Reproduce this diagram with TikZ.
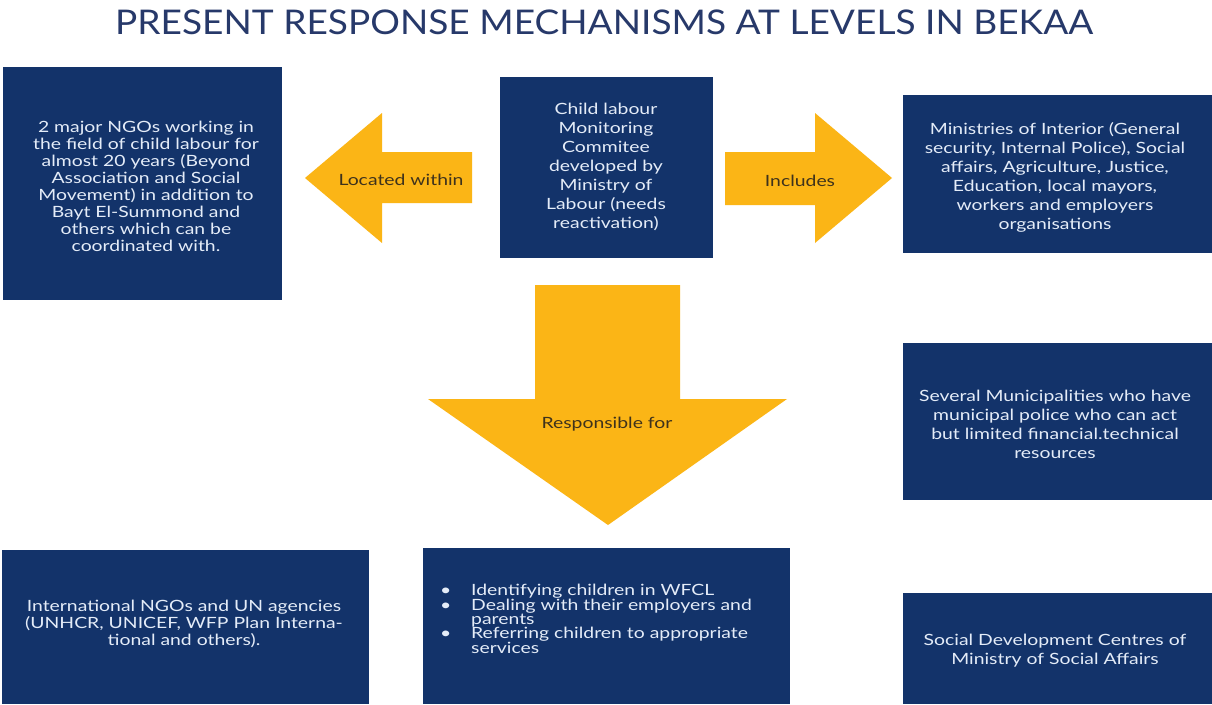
\documentclass[tikz,border=0pt]{standalone}
\usepackage{fontspec}
\setmainfont{Lato}
\newfontfamily\bodyfont[FakeStretch=1.25]{Lato}
\newfontfamily\titlefont[FakeStretch=1.09]{Lato}
\definecolor{navy}{HTML}{13336A}
\definecolor{gold}{HTML}{FBB516}
\definecolor{titleblue}{HTML}{27396A}
\definecolor{boxtext}{HTML}{E4ECF8}
\definecolor{labeltext}{HTML}{3E321C}
\begin{document}
\begin{tikzpicture}[x=1pt,y=-1pt,
  box/.style={fill=navy, draw=none, inner sep=0, anchor=north west},
  boxtext/.style={text=boxtext, font=\bodyfont\fontsize{15.5}{19}\selectfont, align=center, inner sep=0},
  listtext/.style={text=boxtext, font=\bodyfont\fontsize{15.5}{14.4}\selectfont, align=left, inner sep=0},
  blockarrow/.style={fill=gold, draw=none},
  arrowlabel/.style={text=labeltext, font=\bodyfont\fontsize{15.5}{17}\selectfont, inner sep=0}]
\useasboundingbox (0,0) rectangle (1212,704);
\fill[white] (0,0) rectangle (1212,704);

% title
\node[text=titleblue, font=\titlefont\fontsize{34}{40}\selectfont, inner sep=0] (title) at (604,22) {PRESENT RESPONSE MECHANISMS AT LEVELS IN BEKAA};

% boxes
\node[box, minimum width=279pt, minimum height=233pt] (ngo) at (3,67) {};
\node[box, minimum width=213pt, minimum height=181pt] (clmc) at (500,77) {};
\node[box, minimum width=309pt, minimum height=158pt] (min) at (903,95) {};
\node[box, minimum width=309pt, minimum height=157pt] (muni) at (903,343) {};
\node[box, minimum width=309pt, minimum height=111pt] (sdc) at (903,593) {};
\node[box, minimum width=367pt, minimum height=154pt] (intl) at (2,550) {};
\node[box, minimum width=367pt, minimum height=156pt] (resp) at (423,548) {};

% box texts
\node[boxtext, font=\bodyfont\fontsize{15.5}{17}\selectfont] (ngot) at (146,186) {2 major NGOs working in\\the field of child labour for\\almost 20 years (Beyond\\Association and Social\\Movement) in addition to\\Bayt El-Summond and\\others which can be\\coordinated with.};
\node[boxtext] (clmct) at (606,167) {Child labour\\Monitoring\\Commitee\\developed by\\Ministry of\\Labour (needs\\reactivation)};
\node[boxtext] (mint) at (1055,177) {Ministries of Interior (General\\security, Internal Police), Social\\affairs, Agriculture, Justice,\\Education, local mayors,\\workers and employers\\organisations};
\node[boxtext] (munit) at (1055,424) {Several Municipalities who have\\municipal police who can act\\but limited financial.technical\\resources};
\node[boxtext] (sdct) at (1055,651) {Social Development Centres of\\Ministry of Social Affairs};
\node[boxtext, font=\bodyfont\fontsize{15.5}{16.8}\selectfont] (intlt) at (184,624) {International NGOs and UN agencies\\(UNHCR, UNICEF, WFP Plan Interna-\\tional and others).};
\node[listtext, anchor=north west] (respt) at (440,584) {%
\makebox[31pt][l]{•}Identifying children in WFCL\\
\makebox[31pt][l]{•}Dealing with their employers and\\
\makebox[31pt][l]{}parents\\
\makebox[31pt][l]{•}Referring children to appropriate\\
\makebox[31pt][l]{}services};

% block arrows
\fill[blockarrow] (472,152) -- (382,152) -- (382,113) -- (305,178) -- (382,243) -- (382,203) -- (472,203) -- cycle;
\node[arrowlabel] (loc) at (401,180) {Located within};
\fill[blockarrow] (725,152) -- (815,152) -- (815,113) -- (892,178) -- (815,243) -- (815,205) -- (725,205) -- cycle;
\node[arrowlabel] (inc) at (800,181) {Includes};
\fill[blockarrow] (535,285) -- (680,285) -- (680,399) -- (787,399) -- (608,525) -- (428,399) -- (535,399) -- cycle;
\node[arrowlabel] (rsp) at (607,424) {Responsible for};
\end{tikzpicture}
\end{document}
